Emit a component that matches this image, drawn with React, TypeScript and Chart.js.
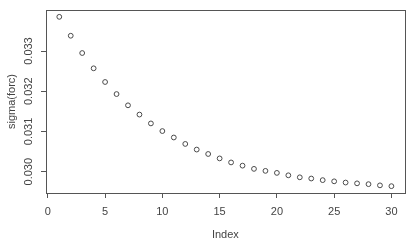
import React, { useEffect, useRef } from "react";
import { Chart, registerables } from "chart.js";

Chart.register(...registerables);

const indexValues: number[] = [
  1, 2, 3, 4, 5, 6, 7, 8, 9, 10, 11, 12, 13, 14, 15,
  16, 17, 18, 19, 20, 21, 22, 23, 24, 25, 26, 27, 28, 29, 30,
];
const sigmaValues: number[] = [
  0.03385, 0.03338, 0.03295, 0.03257, 0.03223, 0.03193, 0.03165, 0.03142,
  0.0312, 0.03101, 0.03085, 0.03069, 0.03055, 0.03044, 0.03033, 0.03023,
  0.03015, 0.03007, 0.03002, 0.02997, 0.02991, 0.02986, 0.02983, 0.02979,
  0.02976, 0.02973, 0.02971, 0.02969, 0.02966, 0.02964,
];
const xTicks: number[] = [0, 5, 10, 15, 20, 25, 30];
const yTicks: number[] = [0.03, 0.031, 0.032, 0.033];
const yTickLabels: string[] = ["0.030", "0.031", "0.032", "0.033"];
const xTitle = "Index";
const yTitle = "sigma(forc)";

const FONT = "'Liberation Sans', Arial, sans-serif";
const TEXT = "#444";
const LINE = "#555";

const rPlot = {
  id: "rPlot",
  afterDraw(chart: any) {
    const { ctx, chartArea, scales } = chart;
    const ys = scales.y;
    ctx.save();
    ctx.strokeStyle = LINE;
    ctx.lineWidth = 1;
    ctx.strokeRect(
      Math.round(chartArea.left) + 0.5,
      Math.round(chartArea.top) + 0.5,
      Math.round(chartArea.right - chartArea.left),
      Math.round(chartArea.bottom - chartArea.top)
    );
    ctx.fillStyle = TEXT;
    ctx.font = `11px ${FONT}`;
    ctx.textAlign = "center";
    ctx.textBaseline = "middle";
    yTicks.forEach((v, i) => {
      const y = ys.getPixelForValue(v);
      ctx.save();
      ctx.translate(29, y);
      ctx.rotate(-Math.PI / 2);
      ctx.fillText(yTickLabels[i], 0, 0);
      ctx.restore();
    });
    ctx.fillText(xTitle, (chartArea.left + chartArea.right) / 2, 235);
    ctx.save();
    ctx.translate(12, (chartArea.top + chartArea.bottom) / 2);
    ctx.rotate(-Math.PI / 2);
    ctx.fillText(yTitle, 0, 0);
    ctx.restore();
    ctx.restore();
  },
};

export default function App() {
  const ref = useRef<HTMLCanvasElement | null>(null);
  useEffect(() => {
    if (!ref.current) return;
    const chart = new Chart(ref.current, {
      type: "scatter",
      data: {
        datasets: [
          {
            data: indexValues.map((x, i) => ({ x, y: sigmaValues[i] })),
            pointStyle: "circle",
            pointRadius: 2.4,
            pointBorderWidth: 1,
            pointBorderColor: "#4a4a4a",
            pointBackgroundColor: "rgba(0,0,0,0)",
            showLine: false,
          },
        ],
      },
      options: {
        responsive: false,
        animation: false,
        layout: { padding: { top: 10, right: 15.3, left: 0, bottom: 0 } },
        plugins: { legend: { display: false }, tooltip: { enabled: false } },
        scales: {
          x: {
            type: "linear",
            min: -0.16,
            max: 31.16,
            afterBuildTicks: (s: any) => {
              s.ticks = xTicks.map((v) => ({ value: v }));
            },
            afterFit: (s: any) => {
              s.height = 55;
            },
            grid: {
              drawOnChartArea: false,
              drawTicks: true,
              tickLength: 5,
              color: LINE,
            },
            border: { display: false },
            ticks: {
              autoSkip: false,
              maxRotation: 0,
              padding: 7,
              color: TEXT,
              font: { family: FONT, size: 11 },
              callback: (v: any) => String(v),
            },
          },
          y: {
            type: "linear",
            min: 0.02947,
            max: 0.03402,
            afterBuildTicks: (s: any) => {
              s.ticks = yTicks.map((v) => ({ value: v }));
            },
            afterFit: (s: any) => {
              s.width = 46;
            },
            grid: {
              drawOnChartArea: false,
              drawTicks: true,
              tickLength: 5,
              color: LINE,
            },
            border: { display: false },
            ticks: { display: false },
          },
        },
      },
      plugins: [rPlot],
    } as any);
    return () => chart.destroy();
  }, []);
  return (
    <div style={{ position: "absolute", left: 0, top: 0, width: 420, height: 248, background: "#fff" }}>
      <canvas ref={ref} width={420} height={248} />
    </div>
  );
}
